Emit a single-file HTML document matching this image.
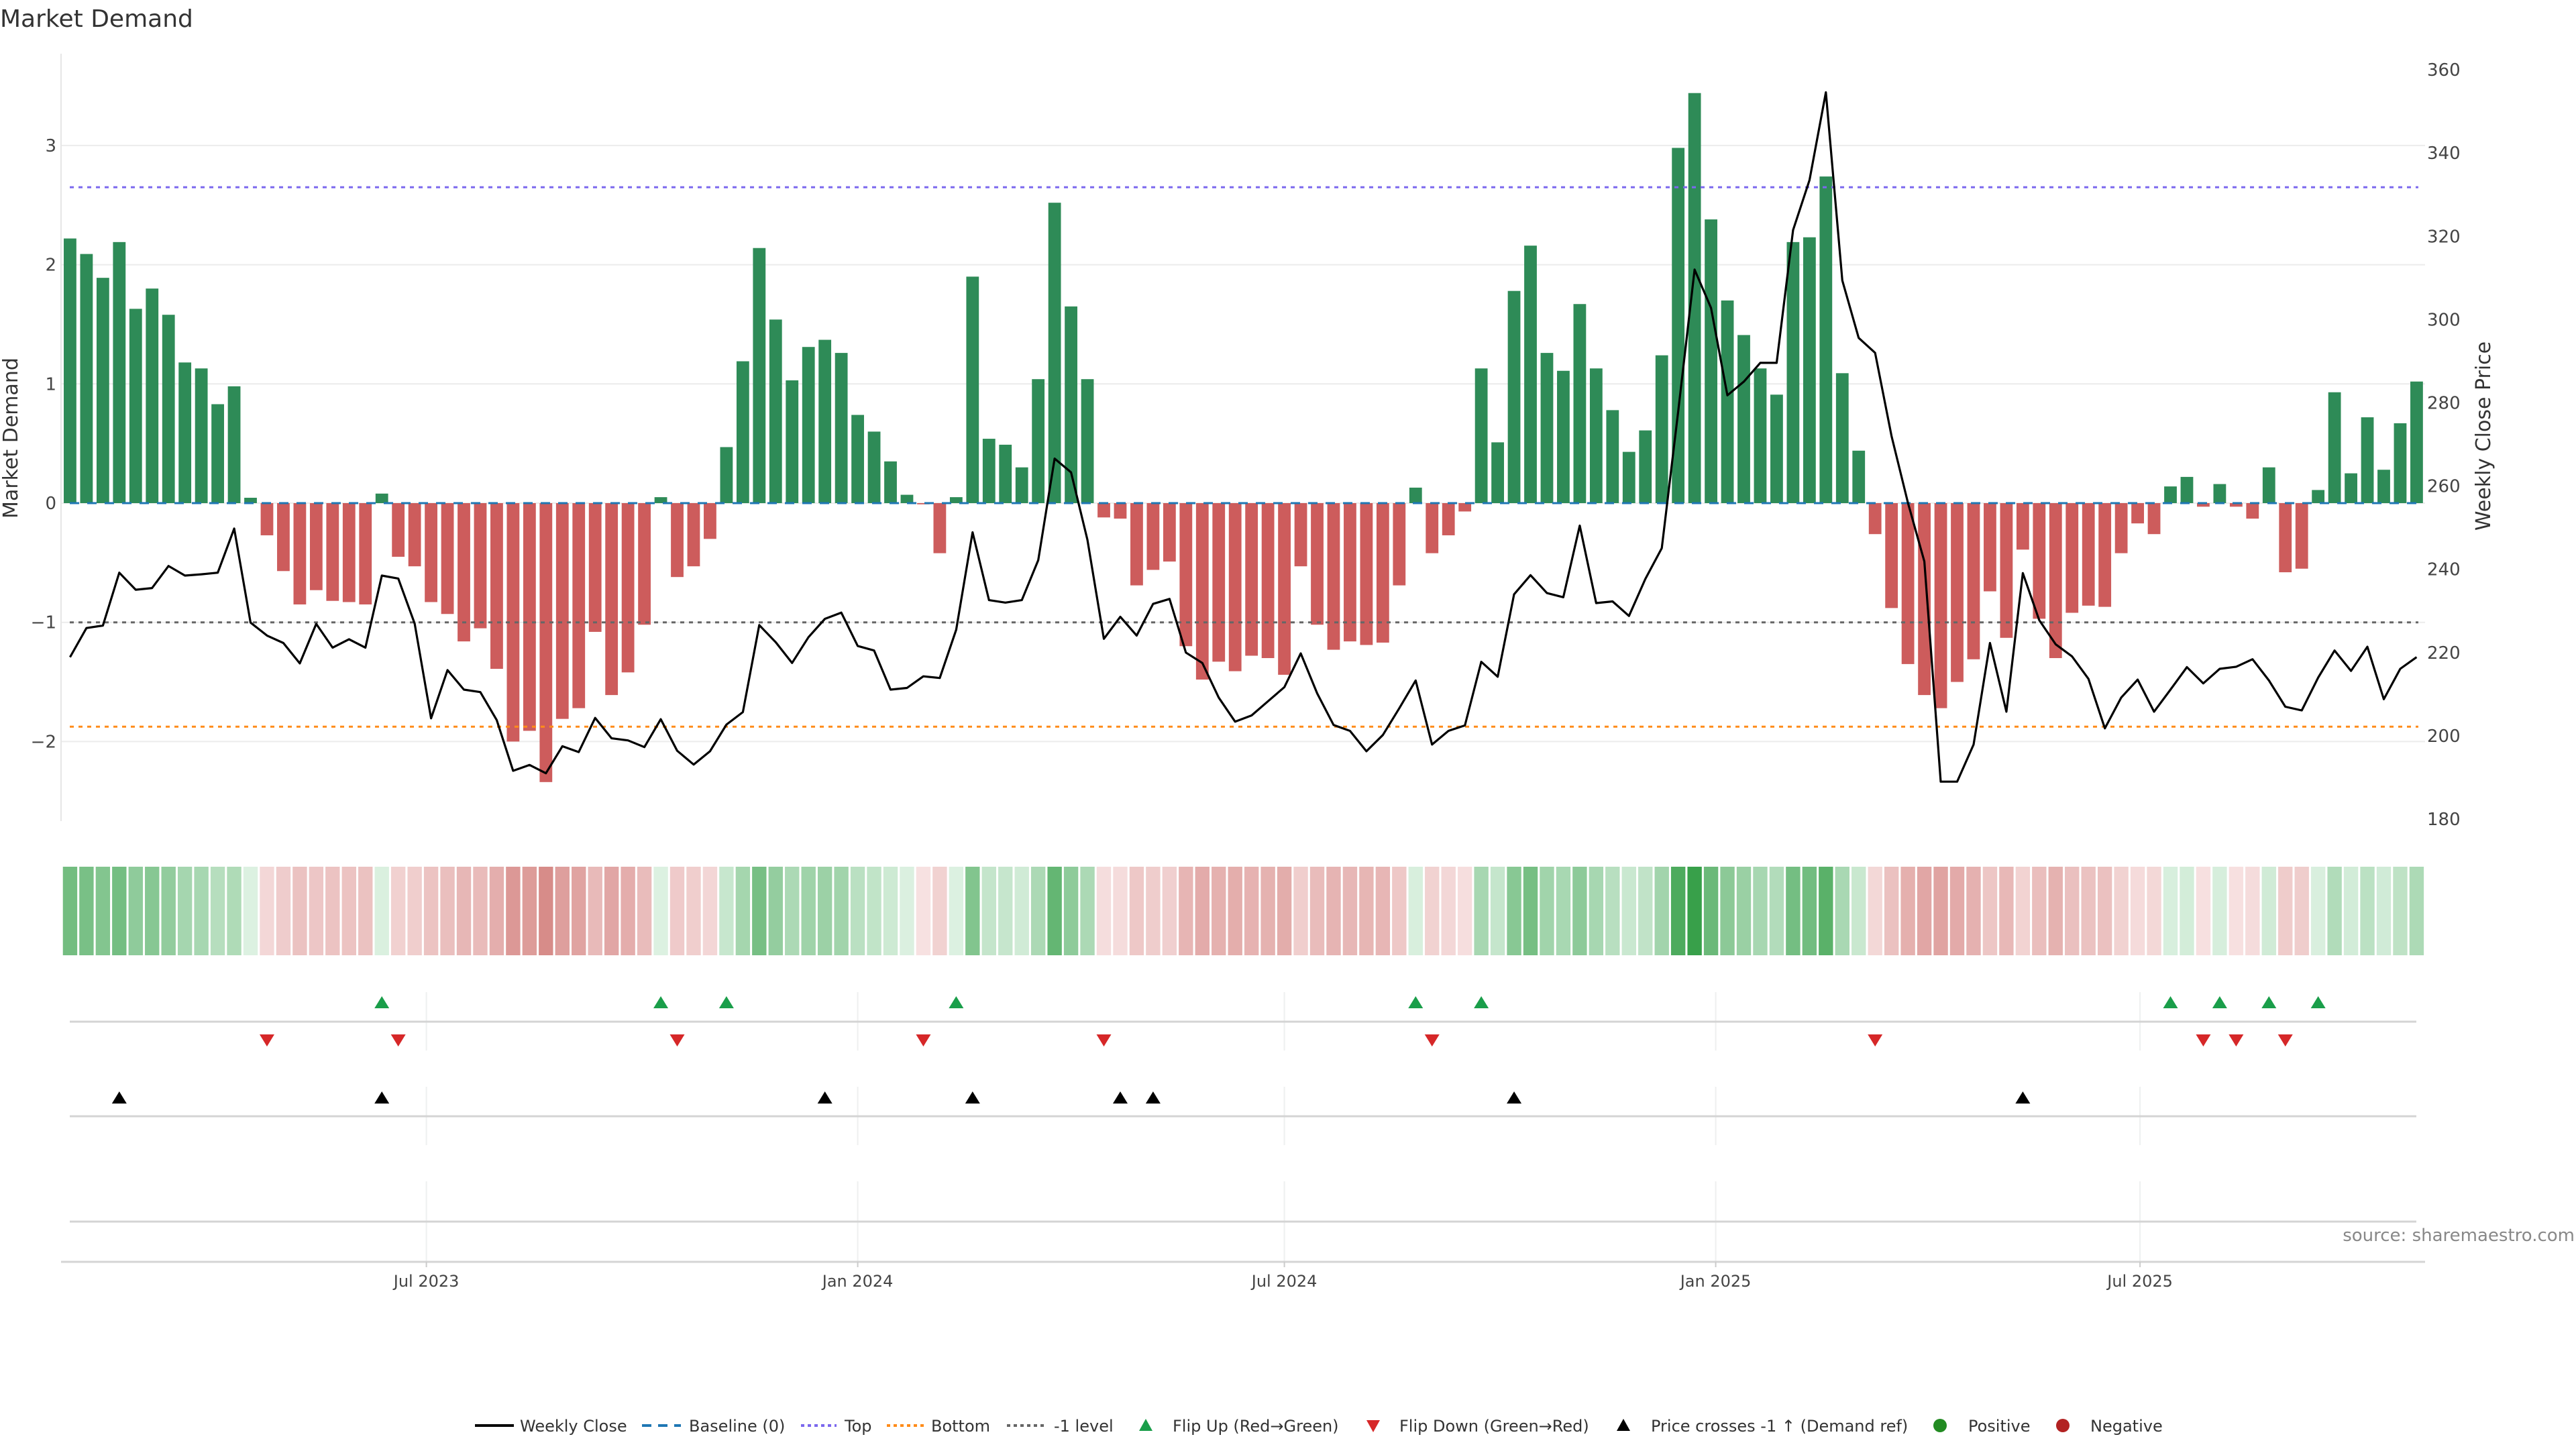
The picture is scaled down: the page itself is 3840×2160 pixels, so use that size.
<!DOCTYPE html>
<html><head><meta charset="utf-8">
<style>
html,body{margin:0;padding:0;background:#fff;}
svg{display:block;font-family:"DejaVu Sans","Liberation Sans",sans-serif;}
</style></head>
<body>
<svg id="chart" xmlns="http://www.w3.org/2000/svg" width="3840" height="2160" viewBox="0 0 3840 2160">
<rect width="3840" height="2160" fill="#fff"/>
<text x="0" y="40" font-size="36" fill="#333">Market Demand</text>
<text transform="translate(26,653) rotate(-90)" text-anchor="middle" font-size="30" fill="#333">Market Demand</text>
<text transform="translate(3712,650) rotate(-90)" text-anchor="middle" font-size="30" fill="#333">Weekly Close Price</text>
<g id="grid"></g><g id="refs"></g><g id="bars"></g><g id="price"></g><g id="axes"></g>
<g id="heat"></g><g id="markers"></g><g id="lower"></g>
<text x="3838" y="1850" text-anchor="end" font-size="26" fill="#888">source: sharemaestro.com</text>
<g id="legend"></g>
</svg>
<script>
const demand = [2.22,2.09,1.89,2.19,1.63,1.80,1.58,1.18,1.13,0.83,0.98,0.045,-0.27,-0.57,-0.85,-0.73,-0.82,-0.83,-0.85,0.08,
-0.45,-0.53,-0.83,-0.93,-1.16,-1.05,-1.39,-2.0,-1.91,-2.34,-1.81,-1.72,-1.08,-1.61,-1.42,-1.02,0.05,-0.62,-0.53,-0.30,
0.47,1.19,2.14,1.54,1.03,1.31,1.37,1.26,0.74,0.60,0.35,0.07,-0.01,-0.42,0.05,1.90,0.54,0.49,0.30,1.04,
2.52,1.65,1.04,-0.12,-0.13,-0.69,-0.56,-0.49,-1.20,-1.48,-1.33,-1.41,-1.28,-1.30,-1.44,-0.53,-1.02,-1.23,-1.16,-1.19,
-1.17,-0.69,0.13,-0.42,-0.27,-0.07,1.13,0.51,1.78,2.16,1.26,1.11,1.67,1.13,0.78,0.43,0.61,1.24,2.98,3.44,
2.38,1.70,1.41,1.13,0.91,2.19,2.23,2.74,1.09,0.44,-0.26,-0.88,-1.35,-1.61,-1.72,-1.50,-1.31,-0.74,-1.13,-0.39,
-0.97,-1.30,-0.92,-0.86,-0.87,-0.42,-0.17,-0.26,0.14,0.22,-0.03,0.16,-0.03,-0.13,0.30,-0.58,-0.55,0.11,0.93,0.25,
0.72,0.28,0.67,1.02];
const price = [218.9,225.9,226.5,239.2,235.1,235.5,240.8,238.5,238.8,239.2,249.8,227.2,224.1,222.3,217.4,226.9,221.2,223.2,221.2,238.5,
237.8,227.0,204.2,215.8,211.1,210.5,203.8,191.6,193.0,191.0,197.5,196.1,204.3,199.4,198.9,197.3,204.0,196.4,193.1,196.3,
202.7,205.7,226.6,222.5,217.5,223.7,228.1,229.6,221.6,220.5,211.1,211.5,214.3,213.9,225.5,248.9,232.6,232.0,232.6,242.2,
266.6,263.3,247.1,223.3,228.6,224.1,231.7,232.9,220.0,217.5,209.2,203.4,204.9,208.3,211.7,219.8,210.2,202.6,201.2,196.3,
200.2,206.6,213.3,197.9,201.2,202.5,217.8,214.2,234.0,238.6,234.3,233.3,250.5,231.9,232.3,228.8,237.7,245.1,278.0,312.0,
302.8,281.8,285.1,289.6,289.6,321.5,333.5,354.6,309.4,295.6,292.0,272.0,256.0,241.9,189.0,189.0,197.9,222.3,205.8,239.1,
227.8,222.0,219.1,213.7,201.8,209.2,213.5,205.8,211.1,216.5,212.6,216.1,216.6,218.4,213.3,207.0,206.1,214.0,220.5,215.6,
221.4,208.8,216.1,218.9];
const crossIdx = [3,19,46,55,64,66,88,119];
const levels = [2.65,-1.0,-1.875];
const yTicks = [3,2,1,0,-1,-2];
const priceTicks = [180,200,220,240,260,280,300,320,340,360];
const xTickLabels = ["Jul 2023","Jan 2024","Jul 2024","Jan 2025","Jul 2025"];
const xTickDays = [0,184,366,550,731];
const startDay = -152;

const NS="http://www.w3.org/2000/svg";
function mk(parent,tag,attrs,txt){const e=document.createElementNS(NS,tag);for(const k in attrs)e.setAttribute(k,attrs[k]);if(txt!==undefined)e.textContent=txt;document.getElementById(parent).appendChild(e);return e;}
const xDay = d => 635.6 + d*3.4945;
const xIdx = i => xDay(startDay + 7*i);
const yD = v => 750 - v*177.7;
const yP = p => 1221 - (p-180)*6.205;
const L=91, R=3615;

// grid + left ticks
yTicks.forEach(t=>{
  let g=mk('grid','line',{x1:L,x2:R,y1:yD(t),y2:yD(t),stroke:'#ececec','stroke-width':2});
  
  
  let lb=mk('grid','text',{x:84,y:yD(t)+9,'text-anchor':'end','font-size':26,fill:'#444'},t<0?'\u2212'+(-t):String(t));
  
  
});
priceTicks.forEach(t=>{
  let lb=mk('grid','text',{x:3618,y:yP(t)+9,'font-size':26,fill:'#444'},String(t));
  
  
});
let ax=mk('axes','line',{x1:L,x2:L,y1:80,y2:1224,stroke:'#e6e6e6','stroke-width':2});



// reference lines
const refColors=['#7b68ee','#666','#ff8c1a'];
const refNames=['top-line','minus-one-level-line','bottom-line'];
levels.forEach((v,k)=>{
  let l=mk('refs','line',{x1:104,x2:3605,y1:yD(v),y2:yD(v),stroke:refColors[k],'stroke-width':3,'stroke-dasharray':'6,7'});
  
  
});
// bars
const bw=18.8;
demand.forEach((v,i)=>{
  const x=xIdx(i), y0=yD(0), y1=yD(v);
  let b=mk('bars','rect',{x:x-bw/2,y:Math.min(y0,y1),width:bw,height:Math.max(1,Math.abs(y1-y0)),fill:v>=0?'#2e8b57':'#cd5c5c'});
  
  
});
let bl=mk('refs','line',{x1:104,x2:3605,y1:yD(0),y2:yD(0),stroke:'#1f77b4','stroke-width':3,'stroke-dasharray':'14,12'});


document.getElementById('refs').parentNode.insertBefore(document.getElementById('bars'),null);
document.getElementById('chart').appendChild(document.getElementById('refs'));
document.getElementById('chart').appendChild(document.getElementById('price'));
// price line
let pts=price.map((p,i)=>xIdx(i).toFixed(1)+','+yP(p).toFixed(1)).join(' ');
let pl=mk('price','polyline',{points:pts,fill:'none',stroke:'#000','stroke-width':3.2,'stroke-linejoin':'round'});



// heatmap
function lerp(a,b,t){return a.map((c,k)=>Math.round(c+(b[k]-c)*t));}
const maxAbs=Math.max(...demand.map(Math.abs));
demand.forEach((v,i)=>{
  const t=Math.min(1,Math.abs(v)/maxAbs);
  const c=v>=0?lerp([222,242,227],[56,160,74],t):lerp([247,225,225],[200,100,96],t);
  let r=mk('heat','rect',{x:xIdx(i)-10.7,y:1292,width:21.4,height:132,fill:'rgb('+c.join(',')+')'});
  
  
});

// lower panels
[[1479,1566],[1620,1707],[1761,1881]].forEach(b=>{
  xTickDays.forEach(d=>{
    let g=mk('lower','line',{x1:xDay(d),x2:xDay(d),y1:b[0],y2:b[1],stroke:'#eef0f0','stroke-width':2});
    
    
  });
});
[1523,1664,1821].forEach(y=>{
  let l=mk('lower','line',{x1:104,x2:3602,y1:y,y2:y,stroke:'#d4d4d4','stroke-width':3});
  
  
});
let xa=mk('lower','line',{x1:91,x2:3615,y1:1881,y2:1881,stroke:'#d4d4d4','stroke-width':3});


xTickDays.forEach((d,k)=>{
  let tk=mk('lower','line',{x1:xDay(d),x2:xDay(d),y1:1881,y2:1889,stroke:'#ccc','stroke-width':2});
  
  
  let lb=mk('lower','text',{x:xDay(d),y:1918,'text-anchor':'middle','font-size':24,fill:'#444'},xTickLabels[k]);
  
  
});
function tri(x,y,up,color,name){
  const s=11,h=18;
  const p=up?`${x},${y-h/2} ${x-s},${y+h/2} ${x+s},${y+h/2}`:`${x-s},${y-h/2} ${x+s},${y-h/2} ${x},${y+h/2}`;
  let t=mk('markers','polygon',{points:p,fill:color});
  
  
}
for(let i=1;i<demand.length;i++){
  if(demand[i-1]<0&&demand[i]>=0) tri(xIdx(i),1494,true,'#1a9e4a','flip-up-marker');
  if(demand[i-1]>=0&&demand[i]<0) tri(xIdx(i),1551,false,'#d62728','flip-down-marker');
}
crossIdx.forEach(i=>tri(xIdx(i),1636,true,'#000','price-cross-marker'));

// legend
const lg=document.getElementById('legend');
function ltext(x,s,name){let t=mk('legend','text',{x:x,y:2134,'font-size':24,fill:'#333'},s);}
function lline(x1,x2,c,dash,w,name){let l=mk('legend','line',{x1:x1,x2:x2,y1:2125,y2:2125,stroke:c,'stroke-width':w,'stroke-dasharray':dash});}
lline(708,766,'#000','none',4,'legend-weekly-close-swatch'); ltext(775,'Weekly Close','legend-weekly-close');
lline(957,1015,'#1f77b4','14,10',4,'legend-baseline-swatch'); ltext(1027,'Baseline (0)','legend-baseline');
lline(1194,1247,'#7b68ee','5,5',4,'legend-top-swatch'); ltext(1259,'Top','legend-top');
lline(1322,1377,'#ff8c1a','5,5',4,'legend-bottom-swatch'); ltext(1388,'Bottom','legend-bottom');
lline(1501,1557,'#666','5,5',4,'legend-minus-one-swatch'); ltext(1571,'-1 level','legend-minus-one');
let lt1=mk('legend','polygon',{points:'1708,2115 1698,2133 1718,2133',fill:'#1a9e4a'});


ltext(1748,'Flip Up (Red\u2192Green)','legend-flip-up');
let lt2=mk('legend','polygon',{points:'2037,2117 2057,2117 2047,2135',fill:'#d62728'});


ltext(2086,'Flip Down (Green\u2192Red)','legend-flip-down');
let lt3=mk('legend','polygon',{points:'2420,2115 2410,2133 2430,2133',fill:'#000'});


ltext(2461,'Price crosses -1 \u2191 (Demand ref)','legend-price-cross');
let c1=mk('legend','circle',{cx:2892,cy:2125,r:10,fill:'#228b22'});


ltext(2934,'Positive','legend-positive');
let c2=mk('legend','circle',{cx:3075,cy:2125,r:10,fill:'#b22222'});


ltext(3116,'Negative','legend-negative');
</script>
</body></html>
